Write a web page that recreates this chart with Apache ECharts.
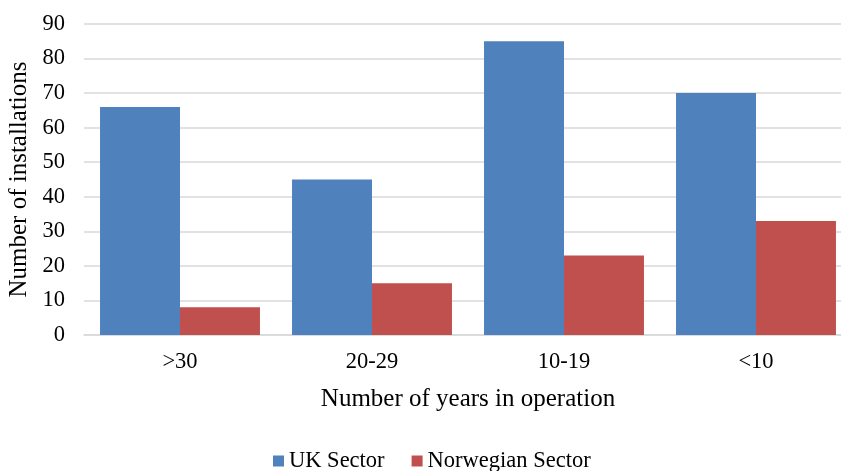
<!DOCTYPE html>
<html><head><meta charset="utf-8">
<script src="https://cdn.jsdelivr.net/npm/echarts@6/dist/echarts.min.js"></script>
<style>html,body{margin:0;padding:0;background:#fff}#c{width:841px;height:471px}</style>
</head><body><div id="c"></div>
<script>
const categories = ['>30', '20-29', '10-19', '<10'];
const ukSector = [66, 45, 85, 70];
const norwegianSector = [8, 15, 23, 33];
const yTicks = {min: 0, max: 90, interval: 10};

const font = 'Liberation Serif';
const chart = echarts.init(document.getElementById('c'));
chart.setOption({
  animation: false,
  textStyle: {fontFamily: font},
  grid: {left: 84, top: 24, width: 768, height: 311, containLabel: false, outerBoundsMode: 'none'},
  legend: {
    top: 449, left: 273, padding: 0, itemWidth: 11, itemHeight: 11, itemGap: 27,
    icon: 'rect',
    textStyle: {fontFamily: font, fontSize: 22.5, lineHeight: 24, color: '#000'},
    data: ['UK Sector', 'Norwegian Sector']
  },
  xAxis: {
    type: 'category', data: categories,
    name: 'Number of years in operation', nameLocation: 'middle', nameGap: 52,
    nameTextStyle: {fontFamily: font, fontSize: 25, color: '#000'},
    axisLine: {lineStyle: {color: '#D9D9D9', width: 1.5}},
    axisTick: {show: false},
    axisLabel: {fontFamily: font, fontSize: 22.5, color: '#000', margin: 16}
  },
  yAxis: {
    type: 'value', min: yTicks.min, max: yTicks.max, interval: yTicks.interval,
    name: 'Number of installations', nameLocation: 'middle', nameGap: 50,
    nameTextStyle: {fontFamily: font, fontSize: 25, color: '#000'},
    axisLine: {show: false}, axisTick: {show: false},
    axisLabel: {fontFamily: font, fontSize: 22.5, color: '#000', margin: 19},
    splitLine: {lineStyle: {color: '#D9D9D9', width: 1.5}}
  },
  series: [
    {name: 'UK Sector', type: 'bar', data: ukSector, barGap: '0%', barCategoryGap: '16.7%',
     itemStyle: {color: '#4F81BD'}},
    {name: 'Norwegian Sector', type: 'bar', data: norwegianSector, barGap: '0%', barCategoryGap: '16.7%',
     itemStyle: {color: '#C0504D'}}
  ]
});
</script></body></html>
